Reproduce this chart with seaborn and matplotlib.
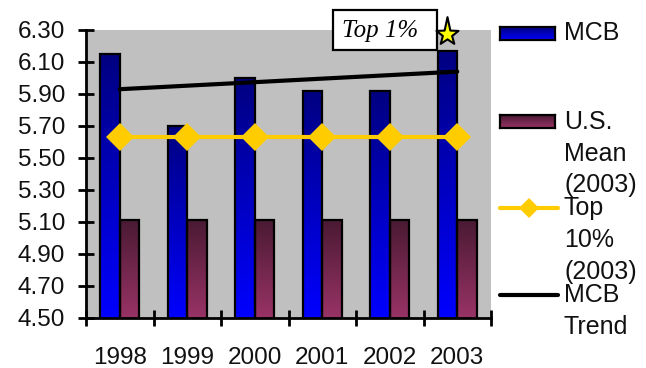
import numpy as np
import pandas as pd
import matplotlib
matplotlib.use("Agg")
import matplotlib.pyplot as plt
import seaborn as sns
from matplotlib.patches import Rectangle
from matplotlib.path import Path
from matplotlib.transforms import Affine2D, offset_copy
from matplotlib.colors import LinearSegmentedColormap

# ---- data -------------------------------------------------------------
years = ["1998", "1999", "2000", "2001", "2002", "2003"]
mcb = [6.15, 5.70, 6.00, 5.92, 5.92, 6.17]
us_mean_2003 = [5.11, 5.11, 5.11, 5.11, 5.11, 5.11]
top10_2003 = [5.63, 5.63, 5.63, 5.63, 5.63, 5.63]
trend_years = ["1998", "2003"]
trend_values = [5.93, 6.04]
star_year = "2003"
y_ticks = [4.50, 4.70, 4.90, 5.10, 5.30, 5.50, 5.70, 5.90, 6.10, 6.30]
series_names = ["MCB", "U.S. Mean (2003)"]

# ---- style ------------------------------------------------------------
sns.set_theme(style="white")
plt.rcParams["font.family"] = ["Liberation Sans", "DejaVu Sans"]

W, H = 646, 368
fig = plt.figure(figsize=(W / 100, H / 100), dpi=100)
fig.patch.set_facecolor("white")
# pixel coordinates (origin top-left) for annotations outside the data area
px = Affine2D().scale(1 / W, -1 / H).translate(0, 1) + fig.transFigure

ax = fig.add_axes([86 / W, 1 - 318 / H, (491 - 86) / W, (318 - 30) / H])
ax.set_facecolor("#C0C0C0")

grad_mcb = LinearSegmentedColormap.from_list("mcb", ["#0000FF", "#000080"])
grad_mean = LinearSegmentedColormap.from_list("mean", ["#993366", "#4A1A33"])

df = pd.DataFrame({
    "year": years * 2,
    "series": [series_names[0]] * len(years) + [series_names[1]] * len(years),
    "value": mcb + us_mean_2003,
})

sns.barplot(data=df, x="year", y="value", hue="series", order=years,
            hue_order=series_names, palette=["#0000FF", "#993366"],
            width=0.58, saturation=1, errorbar=None, edgecolor="black",
            linewidth=1.6, legend=False, ax=ax)

y_lo, y_hi = y_ticks[0], y_ticks[-1]

# vertical gradient fill for every bar
ramp = np.linspace(0, 1, 256).reshape(-1, 1)
bar_centers = {}
for p in list(ax.patches):
    fc = p.get_facecolor()
    is_mcb = fc[2] > 0.9 and fc[0] < 0.1
    cmap = grad_mcb if is_mcb else grad_mean
    x0, w, top = p.get_x(), p.get_width(), p.get_height()
    ax.imshow(ramp, cmap=cmap, origin="lower", aspect="auto",
              extent=[x0, x0 + w, y_lo, top], zorder=1.5, interpolation="bilinear")
    p.set_facecolor("none")
    p.set_zorder(2)
    if is_mcb:
        bar_centers[round(x0 + w / 2)] = (x0 + w / 2, top)

# Top 10% reference line
sns.pointplot(x=years, y=top10_2003, order=years, color="#FFCC00",
              markers="D", markersize=14, linewidth=3, markeredgewidth=0,
              errorbar=None, ax=ax, zorder=3)

# MCB trend line
trend_x = [years.index(y) for y in trend_years]
sns.lineplot(x=trend_x, y=trend_values, color="black", linewidth=3, ax=ax,
             zorder=4)

ax.set_xlim(-0.5, len(years) - 0.5)
ax.set_ylim(y_lo, y_hi)

# star above the 2003 MCB bar
sx, sy = bar_centers[years.index(star_year)]
star = Path.unit_regular_star(5, 0.42)
verts = star.vertices.copy()
verts[np.argmax(verts[:, 1]), 1] = 1.5
star_path = Path(verts, star.codes)
ax.plot([sx], [sy], marker=star_path, markersize=25, color="#FFFF00",
        markeredgecolor="black", markeredgewidth=1.5, clip_on=False, zorder=6,
        transform=offset_copy(ax.transData, fig=fig, y=12, units="points"))

# "Top 1%" callout box
ax.add_patch(Rectangle((333, 10), 104, 40, transform=px, facecolor="white",
                       edgecolor="black", linewidth=1.6, clip_on=False, zorder=5))
ax.text(380, 31, "Top 1%", transform=px, ha="center", va="center",
        fontsize=18, family="Liberation Serif", style="italic", color="black",
        clip_on=False, zorder=5.5)

# axes styling
for side in ("top", "right"):
    ax.spines[side].set_visible(False)
for side in ("left", "bottom"):
    ax.spines[side].set_color("black")
    ax.spines[side].set_linewidth(2)

ax.set_yticks(y_ticks)
ax.set_yticklabels([f"{v:.2f}" for v in y_ticks])
ax.set_xticks(np.arange(len(years) + 1) - 0.5)
ax.set_xticklabels([""] * (len(years) + 1))
ax.set_xticks(np.arange(len(years)), minor=True)
ax.set_xticklabels(years, minor=True)
ax.tick_params(axis="both", which="major", direction="inout", length=12,
               width=2, color="black", labelsize=17.5, labelcolor="#111111")
ax.tick_params(axis="y", pad=9, left=True)
ax.tick_params(axis="x", which="major", bottom=True)
ax.tick_params(axis="x", which="minor", length=0, pad=21, labelsize=17.5,
               labelcolor="#111111", bottom=True)
ax.set_xlabel("")
ax.set_ylabel("")
ax.grid(False)

# ---- legend -------------------------------------------------------------
def swatch(x, y, w, h, cmap):
    sax = fig.add_axes([x / W, 1 - (y + h) / H, w / W, h / H])
    sax.imshow(ramp, cmap=cmap, origin="lower", aspect="auto")
    sax.set_xticks([])
    sax.set_yticks([])
    for s in sax.spines.values():
        s.set_color("black")
        s.set_linewidth(1.6)

swatch(500, 27, 55, 13, grad_mcb)
swatch(500, 115, 55, 13, grad_mean)
fig.add_artist(plt.Line2D([500, 558], [208, 208], transform=px, color="#FFCC00",
                          linewidth=3))
fig.add_artist(plt.Line2D([529], [208], transform=px, color="#FFCC00",
                          marker="D", markersize=10, markeredgewidth=0))
fig.add_artist(plt.Line2D([500, 558], [295, 295], transform=px, color="black",
                          linewidth=3))

legend_lines = [
    ("MCB", 33), ("U.S.", 122), ("Mean", 154), ("(2003)", 185),
    ("Top", 208), ("10%", 240), ("(2003)", 272), ("MCB", 295), ("Trend", 327),
]
for txt, y in legend_lines:
    fig.text(564, y, txt, transform=px, ha="left", va="center", fontsize=18,
             color="#111111")

fig.savefig("out.png", dpi=100)
